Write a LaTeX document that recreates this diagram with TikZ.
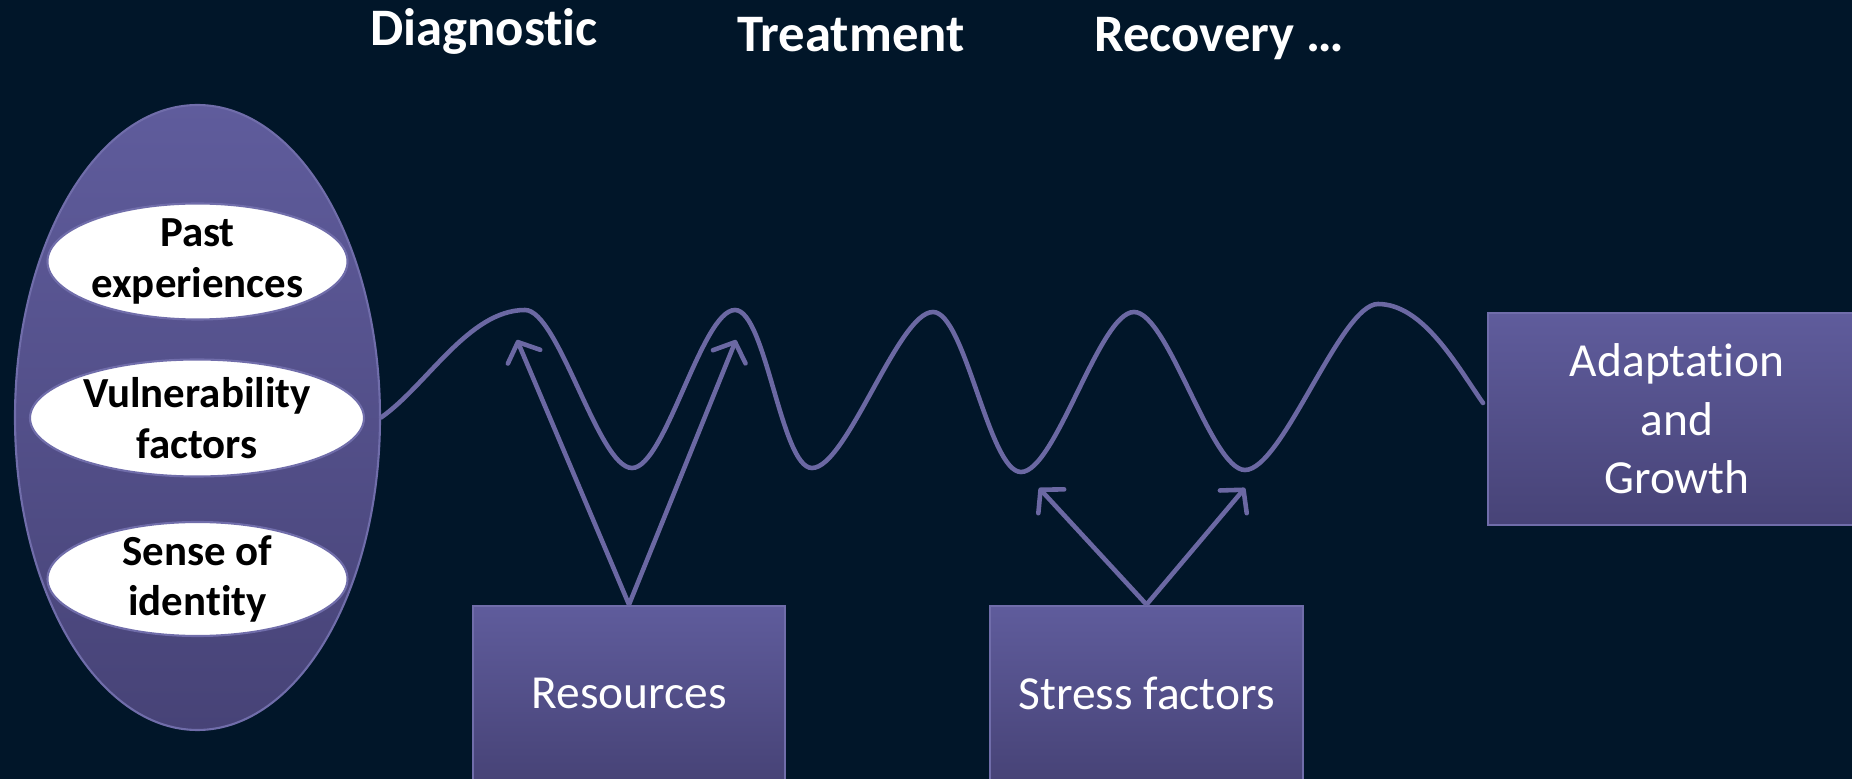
\documentclass[tikz,border=0pt]{standalone}
\usepackage{fontspec}
\setmainfont{Carlito}[Ligatures=NoCommon]
\usepackage{tikz}
\usetikzlibrary{arrows.meta, positioning, shapes.geometric}
\definecolor{rcNavy}{HTML}{011629}
\definecolor{rcLavTop}{HTML}{5F5C9C}
\definecolor{rcLavBot}{HTML}{474377}
\definecolor{rcLine}{HTML}{6B68A3}
\definecolor{rcEdge}{HTML}{706DAA}

\begin{document}
\begin{tikzpicture}[
  stage/.style={font=\bfseries\fontsize{15}{18}\selectfont, text=white, anchor=base},
  trait/.style={ellipse, fill=white, draw=rcEdge, line width=0.6pt, inner xsep=0pt, inner ysep=-1.5pt,
    align=center, font=\bfseries\fontsize{12.2}{14.4}\selectfont},
  factor/.style={rectangle, top color=rcLavTop, bottom color=rcLavBot, draw=rcEdge, line width=0.8pt,
    inner sep=0pt, align=center, text=white, font=\fontsize{13.5}{16.6}\selectfont},
  wave/.style={rcLine, line width=1.3pt, line cap=round},
  push/.style={rcLine, line width=1.3pt, -{Straight Barb[length=4.5pt,width=10pt,round]}},
  swing/.style={looseness=0.45}
]
  \useasboundingbox (0,0) rectangle (18.52,7.79);
  \fill[rcNavy] (0,0) rectangle (18.52,7.79);

  \node[stage] (diag) at (4.84,7.33) {Diagnostic};
  \node[stage] (treat) at (8.51,7.27) {Treatment};
  \node[stage] (recov) at (12.19,7.27) {Recovery …};

  \node[ellipse, minimum width=3.65cm, minimum height=6.25cm, inner sep=0pt,
    top color=rcLavTop, bottom color=rcLavBot, draw=rcEdge, line width=0.6pt] (frame) at (1.975,3.615) {};
  \node[trait, minimum width=3.0cm, minimum height=1.16cm] (past) at (1.975,5.175) {Past\\experiences};
  \node[trait, minimum width=3.34cm, minimum height=1.17cm] (vuln) at (1.97,3.61) {Vulnerability\\factors};
  \node[trait, minimum width=3.0cm, minimum height=1.14cm] (ident) at (1.975,2.0) {Sense of\\identity};

  \node[factor, minimum width=3.12cm, minimum height=1.74cm] (res) at (6.29,0.86) {Resources};
  \node[factor, minimum width=3.13cm, minimum height=1.74cm] (stress) at (11.465,0.86) {Stress factors};
  \node[factor, minimum width=3.78cm, minimum height=2.12cm] (adapt) at (16.77,3.60) {Adaptation\\and\\Growth};

  \coordinate (p1) at (5.25,4.69);  \coordinate (v1) at (6.32,3.11);
  \coordinate (p2) at (7.35,4.69);  \coordinate (v2) at (8.12,3.11);
  \coordinate (p3) at (9.33,4.67);  \coordinate (v3) at (10.21,3.07);
  \coordinate (p4) at (11.34,4.67); \coordinate (v4) at (12.45,3.09);
  \coordinate (p5) at (13.78,4.75); \coordinate (wend) at (14.83,3.76);
  \draw[wave] (frame.east) to[out=35,in=180,looseness=0.8] (p1)
    to[out=0,in=180,swing] (v1) to[out=0,in=180,swing] (p2)
    to[out=0,in=180,swing] (v2) to[out=0,in=180,swing] (p3)
    to[out=0,in=180,swing] (v3) to[out=0,in=180,swing] (p4)
    to[out=0,in=180,swing] (v4) to[out=0,in=180,swing] (p5)
    to[out=0,in=125,looseness=0.8] (wend);

  \coordinate (resL) at (5.17,4.39);   \coordinate (resR) at (7.36,4.39);
  \coordinate (strL) at (10.39,2.91);  \coordinate (strR) at (12.45,2.91);
  \draw[push] (res.north) -- (resL);
  \draw[push] (res.north) -- (resR);
  \draw[push] (stress.north) -- (strL);
  \draw[push] (stress.north) -- (strR);
\end{tikzpicture}
\end{document}
